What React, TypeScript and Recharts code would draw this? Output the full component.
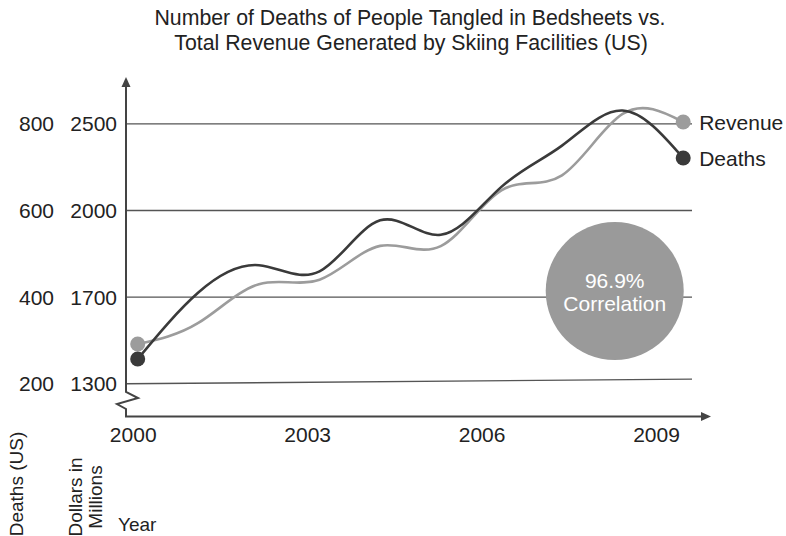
import React from 'react';
import { LineChart, Line, XAxis, YAxis, ReferenceLine, ReferenceDot, LabelList, Label } from 'recharts';

const years = [2000, 2001, 2002, 2003, 2004, 2005, 2006, 2007, 2008, 2009];
const deaths = [327, 456, 509, 497, 596, 568, 661, 741, 809, 717];
const revenue = [1551, 1635, 1790, 1808, 1943, 1942, 2165, 2225, 2470, 2438];
const deathTicks = [200, 400, 600, 800];
const revenueTickLabels = ['1300', '1700', '2000', '2500'];
const yearTicks = [2000, 2003, 2006, 2009];
const titleLines = [
  'Number of Deaths of People Tangled in Bedsheets vs.',
  'Total Revenue Generated by Skiing Facilities (US)',
];
const correlationText = ['96.9%', 'Correlation'];
const correlationSpot = { year: 2007.87, deaths: 459 };
const labelDomain: [number, number] = [1999.876, 2009.61];
const baselineRise = 10.8;

const data = years.map((year, i) => ({ year, deaths: deaths[i], revenue: revenue[i] }));
const last = data.length - 1;

const FONT = '"Liberation Sans", Arial, Helvetica, sans-serif';
const TEXT = '#222';
const DEATH_COLOR = '#3a3a3a';
const REV_COLOR = '#9c9c9c';

const YTick = (props: any) => {
  const { y, payload, index } = props;
  return (
    <g>
      <text x={54} y={y} dy="0.36em" textAnchor="end" fontSize={21} fill={TEXT} fontFamily={FONT}>
        {payload.value}
      </text>
      <text x={117} y={y} dy="0.36em" textAnchor="end" fontSize={21} fill={TEXT} fontFamily={FONT}>
        {revenueTickLabels[index]}
      </text>
    </g>
  );
};

const XTick = (props: any) => {
  const { x, y, payload } = props;
  return (
    <text x={x} y={y + 3} dy="0.71em" textAnchor="middle" fontSize={21} fill={TEXT} fontFamily={FONT}>
      {payload.value}
    </text>
  );
};

const makeDot = (color: string) => (props: any) => {
  const { cx, cy, index } = props;
  if (index === 0 || index === last) {
    return <circle key={`d-${index}`} cx={cx} cy={cy} r={7.5} fill={color} stroke="none" />;
  }
  return <g key={`d-${index}`} />;
};

const makeEndLabel = (name: string) => (props: any) => {
  const { x, y, index } = props;
  if (index !== last) return null;
  return (
    <text x={x + 16} y={y} dy="0.36em" fontSize={21} fill={TEXT} fontFamily={FONT}>
      {name}
    </text>
  );
};

const CorrLabel = (props: any) => {
  const vb = props.viewBox || {};
  const cx = vb.x + vb.width / 2;
  const cy = vb.y + vb.height / 2;
  return (
    <g>
      <text x={cx} y={cy - 11} dy="0.36em" textAnchor="middle" fontSize={21} fill="#fff" fontFamily={FONT}>
        {correlationText[0]}
      </text>
      <text x={cx} y={cy + 12} dy="0.36em" textAnchor="middle" fontSize={21} fill="#fff" fontFamily={FONT}>
        {correlationText[1]}
      </text>
    </g>
  );
};

export default function App() {
  return (
    <div style={{ position: 'absolute', left: 0, top: 0, width: 786, height: 536, background: '#fff' }}>
      <LineChart width={786} height={536} data={data} margin={{ top: 78, right: 94, bottom: 89.5, left: 0 }}>
        <XAxis
          xAxisId="labels"
          dataKey="year"
          type="number"
          domain={labelDomain}
          ticks={yearTicks}
          allowDataOverflow
          axisLine={false}
          tickLine={false}
          height={30}
          tick={<XTick />}
        />
        <XAxis xAxisId="data" dataKey="year" type="number" domain={[1999.807, 2009.145]} height={0} hide />
        <YAxis
          yAxisId="grid"
          type="number"
          domain={[124.5, 905.8]}
          ticks={deathTicks}
          allowDataOverflow
          width={126}
          axisLine={false}
          tickLine={false}
          tick={<YTick />}
        />
        <YAxis yAxisId="deaths" type="number" domain={[215.4, 872.2]} width={0} hide />
        <YAxis yAxisId="revenue" type="number" domain={[1261.3, 2613.7]} width={0} hide />
        {deathTicks.map((t, i) =>
          i === 0 ? (
            <ReferenceLine
              key={`g-${t}`}
              xAxisId="labels"
              yAxisId="grid"
              segment={[
                { x: labelDomain[0], y: t },
                { x: labelDomain[1], y: t + baselineRise },
              ]}
              stroke="#555"
              strokeWidth={1.4}
            />
          ) : (
            <ReferenceLine
              key={`g-${t}`}
              xAxisId="labels"
              yAxisId="grid"
              y={t}
              stroke="#555"
              strokeWidth={1.4}
            />
          )
        )}
        <ReferenceDot
          xAxisId="data"
          yAxisId="deaths"
          x={correlationSpot.year}
          y={correlationSpot.deaths}
          r={69}
          fill="#9a9a9a"
          stroke="none"
          ifOverflow="visible"
        >
          <Label content={<CorrLabel />} />
        </ReferenceDot>
        <Line
          xAxisId="data"
          yAxisId="revenue"
          type="natural"
          dataKey="revenue"
          stroke={REV_COLOR}
          strokeWidth={2.6}
          dot={makeDot(REV_COLOR)}
          activeDot={false}
          isAnimationActive={false}
        >
          <LabelList dataKey="revenue" content={makeEndLabel('Revenue')} />
        </Line>
        <Line
          xAxisId="data"
          yAxisId="deaths"
          type="natural"
          dataKey="deaths"
          stroke={DEATH_COLOR}
          strokeWidth={2.6}
          dot={makeDot(DEATH_COLOR)}
          activeDot={false}
          isAnimationActive={false}
        >
          <LabelList dataKey="deaths" content={makeEndLabel('Deaths')} />
        </Line>
      </LineChart>
      <svg
        width={786}
        height={536}
        style={{ position: 'absolute', left: 0, top: 0, pointerEvents: 'none' }}
        fontFamily={FONT}
      >
        <text x={410} y={25} textAnchor="middle" fontSize={21.3} fill={TEXT}>{titleLines[0]}</text>
        <text x={411} y={50} textAnchor="middle" fontSize={21.3} fill={TEXT}>{titleLines[1]}</text>
        <path
          d="M126 80 L126 392 L138 398 L117 404 L126 409 L126 416.5 L704 416.5"
          fill="none"
          stroke="#444"
          strokeWidth={2}
          strokeLinejoin="miter"
        />
        <path d="M126 77 L121.5 87 L130.5 87 Z" fill="#444" />
        <path d="M711 416.5 L701 412 L701 421 Z" fill="#444" />
        <text transform="translate(23,484) rotate(-90)" textAnchor="middle" fontSize={19} fill={TEXT}>Deaths (US)</text>
        <text transform="translate(82,497) rotate(-90)" textAnchor="middle" fontSize={19} fill={TEXT}>Dollars in</text>
        <text transform="translate(102,497) rotate(-90)" textAnchor="middle" fontSize={19} fill={TEXT}>Millions</text>
        <text x={118} y={531} fontSize={19} fill={TEXT}>Year</text>
      </svg>
    </div>
  );
}
